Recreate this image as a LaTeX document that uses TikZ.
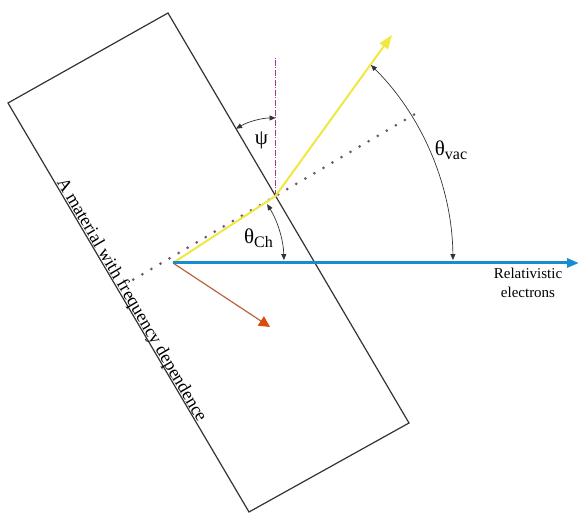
\documentclass[tikz,border=0pt]{standalone}
\usepackage{fontspec}
\setmainfont{Liberation Serif}
\usetikzlibrary{arrows.meta,calc}
\definecolor{ink}{HTML}{333333}
\definecolor{beam}{HTML}{1B8BD0}
\definecolor{glow}{HTML}{EFE840}
\definecolor{rust}{HTML}{B8643F}
\definecolor{flame}{HTML}{DC4A0C}
\definecolor{plum}{HTML}{A0368F}
\definecolor{dusk}{HTML}{6E5478}
\newcommand\lowsub[1]{\raisebox{-0.4ex}{\fontsize{16}{18}\selectfont #1}}
\tikzset{
  every node/.style={font=\fontsize{15}{19}\selectfont},
  slab/.style={draw=ink,line width=1.2pt},
  ray/.style={line width=2pt},
  angarc/.style={draw=ink,line width=0.7pt,{Triangle[length=6pt,width=5pt]}-{Triangle[length=6pt,width=5pt]}},
  normal/.style={draw=dusk,line width=3pt,line cap=round,dash pattern=on 0pt off 10.5pt},
  axis/.style={draw=plum,line width=1.2pt,dash pattern=on 6pt off 1.5pt on 1pt off 1.5pt},
  greek/.style={font=\fontsize{21}{23}\selectfont},
}

\begin{document}
\begin{tikzpicture}[x=1pt,y=1pt]
  \useasboundingbox (0,0) rectangle (579,513);
  % the slab of material
  \coordinate (tc) at (168,500);
  \coordinate (rc) at (409,90);
  \coordinate (bc) at (249,1);
  \coordinate (lc) at (8,410);
  \draw[slab] (tc) -- (rc) -- (bc) -- (lc) -- cycle;
  \node[rotate=-59.55,anchor=base,font=\fontsize{18}{21}\selectfont] (mat) at ($(lc)!0.49!(bc)+(1.3,0.8)$) {A material with frequency dependence};
  % rays
  \coordinate (src) at (173,250);
  \coordinate (exit) at ($(tc)!0.4463!(rc)$);
  \coordinate (tip) at (392,478);
  \coordinate (beamend) at (579,250);
  \coordinate (back) at (270,186);
  \coordinate (vtop) at ($(exit)+(0,138)$);
  \draw[normal] ($(exit)+(210.45:165)$) -- ($(exit)+(30.45:167)$);
  \draw[axis] (exit) -- (vtop);
  \draw[ray,draw=glow,-{Triangle[length=14pt,width=10pt]}] (src) -- (exit) -- (tip);
  \draw[line width=1.2pt,draw=rust,-{Triangle[length=11pt,width=11pt,color=flame]}] (src) -- (back);
  \draw[line width=3pt,draw=beam,-{Triangle[length=12pt,width=9pt]}] (src) -- (beamend);
  % angles
  \draw[angarc] ($(exit)+(90:78)$) arc[start angle=90,end angle=120.45,radius=78];
  \draw[angarc] ($(src)+(32:111)$) arc[start angle=32,end angle=1.5,radius=111];
  \draw[angarc] ($(src)+(45:280)$) arc[start angle=45,end angle=0.6,radius=280];
  \node[greek] (psi) at (261.5,373) {ψ};
  \node[greek] (thch) at (258.5,275) {θ\lowsub{Ch}};
  \node[greek] (thvac) at (451,363) {θ\lowsub{vac}};
  \node[align=center] (elec) at (528,230) {Relativistic\\electrons};
\end{tikzpicture}
\end{document}
